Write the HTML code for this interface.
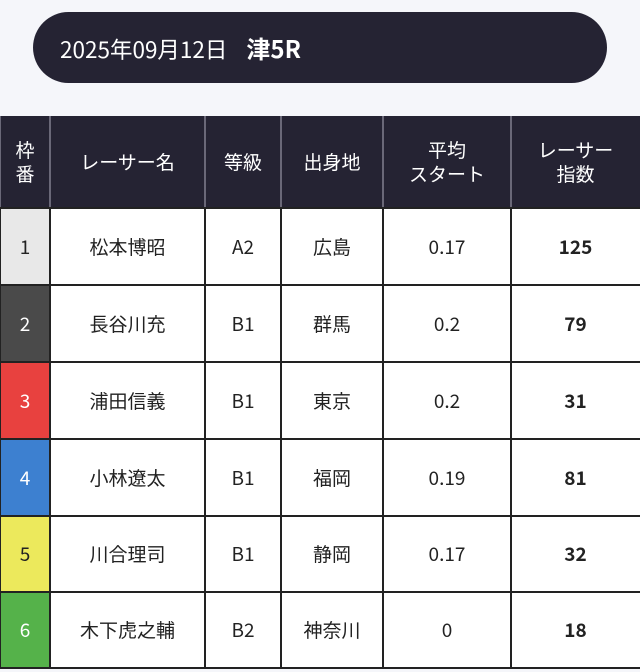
<!DOCTYPE html>
<html><head><meta charset="utf-8"><style>
*{margin:0;padding:0;box-sizing:border-box}
body{width:640px;height:672px;background:#f5f6fa;position:relative;overflow:hidden;font-family:"Liberation Sans","Noto Sans CJK JP",sans-serif;color:#222}
.pill{position:absolute;left:33px;top:12px;width:574px;height:71px;background:#252333;border-radius:36px;color:#fff;font-size:22.5px;line-height:71px;padding-left:27px;font-family:"Noto Sans CJK JP",sans-serif}
.pill b{font-size:24px;margin-left:19px;font-weight:bold}
.c{position:absolute;display:flex;align-items:center;justify-content:center;text-align:center;font-size:19px;font-family:"Noto Sans CJK JP",sans-serif;line-height:24px}
.h{background:#252333;color:#fff;font-size:19px}
.l{position:absolute;background:#222}
.hl{position:absolute;background:#6a6878}
</style></head><body>
<div class="pill">2025年09月12日<b>津5R</b></div>
<div id="t"></div>
<script>
var xs=[0,50,205,281,383,511,640];
var ys=[116,208,285,362,439,516,592,668];
var hdr=["枠<br>番","レーサー名","等級","出身地","平均<br>スタート","レーサー<br>指数"];
var rows=[["1","松本博昭","A2","広島","0.17","125"],["2","長谷川充","B1","群馬","0.2","79"],["3","浦田信義","B1","東京","0.2","31"],["4","小林遼太","B1","福岡","0.19","81"],["5","川合理司","B1","静岡","0.17","32"],["6","木下虎之輔","B2","神奈川","0","18"]];
var bg=[["#e8e8e8","#222"],["#4a4a4a","#fff"],["#e8413f","#fff"],["#3d80d0","#fff"],["#ece95c","#222"],["#55b24a","#fff"]];
var h="";
for(var i=0;i<6;i++){h+='<div class="c h" style="left:'+xs[i]+'px;top:116px;width:'+(xs[i+1]-xs[i])+'px;height:92px">'+hdr[i]+'</div>';}
for(var r=0;r<6;r++)for(var i=0;i<6;i++){var s='left:'+xs[i]+'px;top:'+ys[r+1]+'px;width:'+(xs[i+1]-xs[i])+'px;height:'+(ys[r+2]-ys[r+1])+'px;';
if(i==0)s+='background:'+bg[r][0]+';color:'+bg[r][1]+';';else s+='background:#fff;';
if(i==5)s+='font-weight:bold;';
h+='<div class="c" style="'+s+'">'+rows[r][i]+'</div>';}
for(var i=0;i<6;i++){var x=xs[i];h+='<div class="hl" style="left:'+(x-1)+'px;top:116px;width:2px;height:92px"></div><div class="l" style="left:'+(x-1)+'px;top:208px;width:2px;height:461px"></div>';}
for(var r=1;r<8;r++)h+='<div class="l" style="left:0;top:'+(ys[r]-1)+'px;width:640px;height:2px"></div>';
document.getElementById('t').innerHTML=h;
</script>
</body></html>
